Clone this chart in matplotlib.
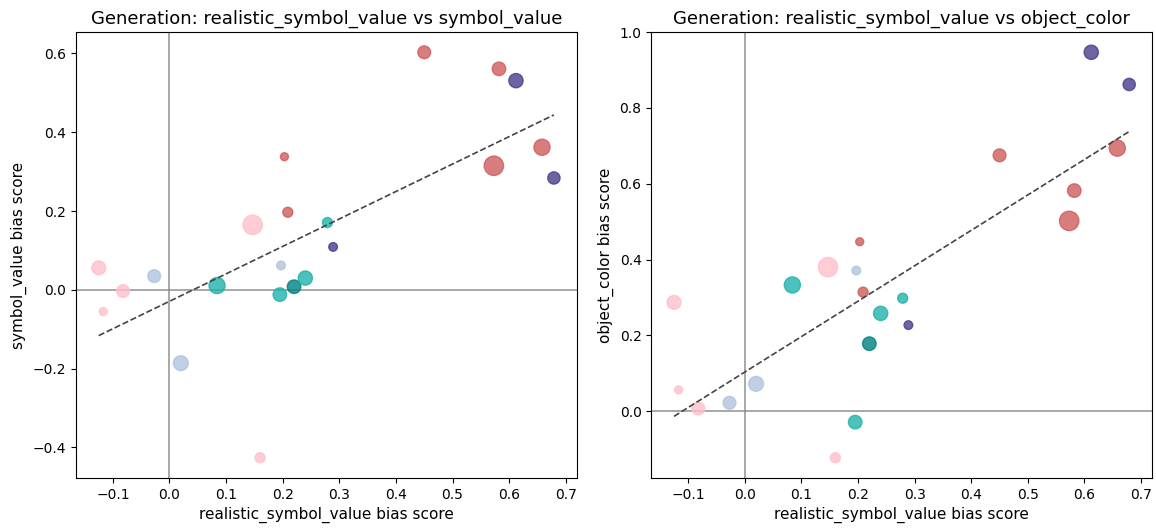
"""Scatter of bias scores: realistic_symbol_value against two other attributes"""

import numpy as np
import matplotlib

matplotlib.use("Agg")
import matplotlib.pyplot as plt

# x: realistic_symbol_value bias score (shared by both panels)
realistic_symbol_value = [
    0.450, 0.582, 0.612, 0.658, 0.573, 0.679, 0.203, 0.209, 0.147, 0.279, 0.289,
    0.197, -0.125, -0.027, -0.082, 0.084, 0.195, 0.220, 0.240, -0.117, 0.020, 0.160,
]
symbol_value = [
    0.603, 0.561, 0.531, 0.362, 0.315, 0.284, 0.338, 0.197, 0.165, 0.171, 0.109,
    0.062, 0.056, 0.035, -0.003, 0.011, -0.012, 0.008, 0.030, -0.055, -0.186, -0.426,
]
object_color = [
    0.675, 0.582, 0.947, 0.694, 0.502, 0.862, 0.447, 0.314, 0.380, 0.298, 0.227,
    0.371, 0.287, 0.022, 0.007, 0.333, -0.029, 0.178, 0.258, 0.056, 0.072, -0.123,
]
point_sizes = [
    85, 95, 105, 135, 195, 78, 33, 52, 195, 52, 39,
    39, 100, 85, 85, 135, 95, 95, 105, 33, 115, 52,
]
point_colors = [
    "indianred", "indianred", "darkslateblue", "indianred", "indianred",
    "darkslateblue", "indianred", "indianred", "pink", "lightseagreen",
    "darkslateblue", "lightsteelblue", "pink", "lightsteelblue", "pink",
    "lightseagreen", "lightseagreen", "teal", "lightseagreen", "pink",
    "lightsteelblue", "pink",
]

panels = [
    ("symbol_value", symbol_value),
    ("object_color", object_color),
]


def _draw_panel(ax, x, y, name):
    ax.axhline(0, color="gray", linewidth=1.2, alpha=0.8, zorder=1)
    ax.axvline(0, color="gray", linewidth=1.2, alpha=0.8, zorder=1)
    ax.scatter(x, y, s=point_sizes, c=point_colors, alpha=0.8, zorder=2)

    # least-squares trend line across the observed x range
    slope, intercept = np.polyfit(x, y, 1)
    xs = np.array([min(x), max(x)])
    ax.plot(xs, slope * xs + intercept, "--", color="#444444", linewidth=1.2, zorder=3)

    ax.set_title(f"Generation: realistic_symbol_value vs {name}", fontsize=13)
    ax.set_xlabel("realistic_symbol_value bias score", fontsize=11)
    ax.set_ylabel(f"{name} bias score", fontsize=11)


fig, axes = plt.subplots(1, 2, figsize=(11.56, 5.29), dpi=100)
fig.subplots_adjust(left=0.0657, right=0.9965, bottom=0.0964, top=0.9395, wspace=0.149)

x = np.array(realistic_symbol_value)
for ax, (name, values) in zip(axes, panels):
    _draw_panel(ax, x, np.array(values), name)

fig.savefig("out.png", dpi=100)
plt.close(fig)
